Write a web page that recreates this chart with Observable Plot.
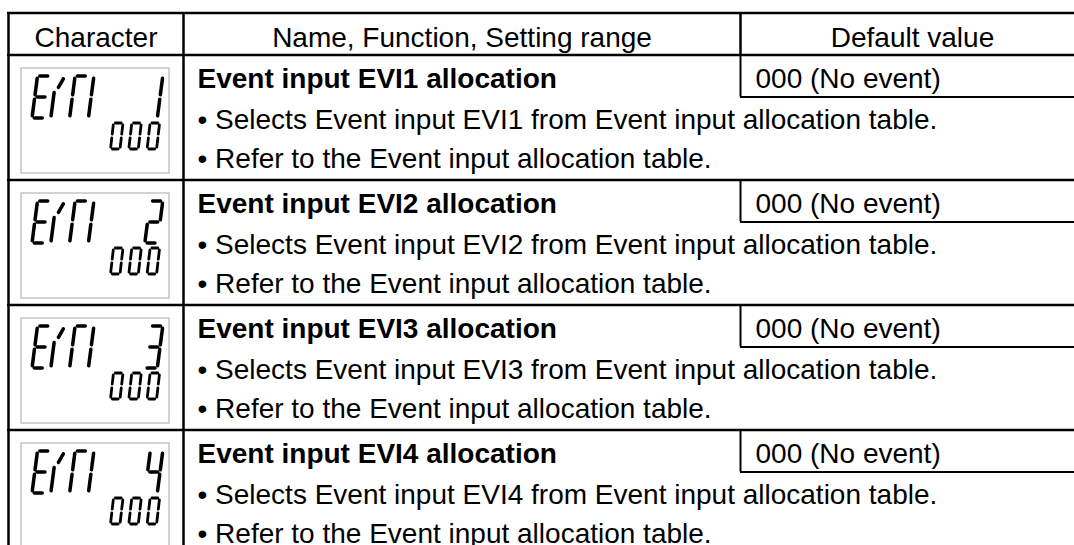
<!DOCTYPE html>
<html>
<head>
<meta charset="utf-8">
<script src="https://cdn.jsdelivr.net/npm/d3@7"></script>
<script src="https://cdn.jsdelivr.net/npm/@observablehq/plot@0.6"></script>
<style>
  html, body { margin: 0; padding: 0; background: #fff; }
  #chart svg { display: block; }
</style>
</head>
<body>
<div id="chart"></div>
<script>
// ---- Data ----
const headers = ["Character", "Name, Function, Setting range", "Default value"];
const lcdTop = ["EVΓI  1", "EVΓI  2", "EVΓI  3", "EVΓI  4"];
const lcdBottom = ["000", "000", "000", "000"];
const names = [
  "Event input EVI1 allocation",
  "Event input EVI2 allocation",
  "Event input EVI3 allocation",
  "Event input EVI4 allocation"
];
const selectLines = [
  "Selects Event input EVI1 from Event input allocation table.",
  "Selects Event input EVI2 from Event input allocation table.",
  "Selects Event input EVI3 from Event input allocation table.",
  "Selects Event input EVI4 from Event input allocation table."
];
const referLines = [
  "Refer to the Event input allocation table.",
  "Refer to the Event input allocation table.",
  "Refer to the Event input allocation table.",
  "Refer to the Event input allocation table."
];
const defaults = ["000 (No event)", "000 (No event)", "000 (No event)", "000 (No event)"];

// ---- Layout (pixel space) ----
const W = 1074, H = 545;
const tLeft = 8, tTop = 12.5, headBottom = 54.5, rowH = 125;
const col1 = 183, col2 = 740, tRight = 1074;
const FS = 28;
const font = "'Liberation Sans', Arial, Helvetica, sans-serif";

const rows = names.map((name, i) => ({
  i, name,
  sel: "• " + selectLines[i],
  ref: "• " + referLines[i],
  def: defaults[i],
  T: headBottom + rowH * i
}));

// seven-segment definitions in unit coords (u: 0..1 right, v: 0..1 up)
const SEG = {
  a: [[0, 1], [1, 1]], b: [[1, 1], [1, 0.5]], c: [[1, 0.5], [1, 0]],
  d: [[0, 0], [1, 0]], e: [[0, 0.5], [0, 0]], f: [[0, 1], [0, 0.5]],
  g: [[0, 0.5], [1, 0.5]],
  vl: [[0, 0], [0, 0.66]], vd: [[0.22, 0.68], [0.66, 0.98]]
};
const GLYPH = {
  "E": "adefg", "Γ": "aef", "I": "ef", " ": "",
  "0": "abcdef", "1": "bc", "2": "abged", "3": "abgcd", "4": "fgbc",
  "V": ["vl", "vd"]
};
function glyphSegs(str, x0, pitch, yb, h, w, slant, gap, sw) {
  const out = [];
  [...str].forEach((ch, k) => {
    const g = GLYPH[ch];
    const list = Array.isArray(g) ? g : [...(g || "")];
    list.forEach(s => {
      const [[u1, v1], [u2, v2]] = SEG[s];
      let X1 = x0 + k * pitch + u1 * w + v1 * slant, Y1 = yb - v1 * h;
      let X2 = x0 + k * pitch + u2 * w + v2 * slant, Y2 = yb - v2 * h;
      const L = Math.hypot(X2 - X1, Y2 - Y1), dx = (X2 - X1) / L, dy = (Y2 - Y1) / L;
      X1 += dx * gap; Y1 += dy * gap; X2 -= dx * gap; Y2 -= dy * gap;
      out.push({x1: X1, y1: Y1, x2: X2, y2: Y2, sw});
    });
  });
  return out;
}
const segs = rows.flatMap(r => [
  ...glyphSegs(lcdTop[r.i], 31.5, 18.8, r.T + 63, 42, 12.5, 5.5, 2.3, 3.5),
  ...glyphSegs(lcdBottom[r.i], 110, 18.3, r.T + 94, 26, 9.5, 3, 1.8, 2.8)
]);

const hLines = [tTop, headBottom, ...rows.slice(1).map(r => r.T)];

const chart = Plot.plot({
  width: W, height: H,
  margin: 0,
  x: {domain: [0, W], range: [0, W], axis: null},
  y: {domain: [0, H], range: [0, H], axis: null},
  style: {fontFamily: font, background: "#fff"},
  marks: [
    // LCD boxes
    Plot.rect(rows, {x1: 21, x2: 169, y1: d => d.T + 13.5, y2: d => d.T + 118.5,
      fill: "#fff", stroke: "#a8a8a8", strokeWidth: 1}),
    // seven segment glyphs
    Plot.link(segs, {x1: "x1", y1: "y1", x2: "x2", y2: "y2", stroke: "#000",
      strokeWidth: d => d.sw, strokeLinecap: "round"}),
    // table grid
    Plot.ruleY(hLines, {y: d => d, x1: tLeft - 1, x2: tRight, stroke: "#000", strokeWidth: 2.5}),
    Plot.ruleX([tLeft, col1], {x: d => d, y1: tTop, y2: H, stroke: "#000", strokeWidth: 2.5}),
    Plot.ruleX([col2], {x: d => d, y1: tTop, y2: headBottom, stroke: "#000", strokeWidth: 2.5}),
    // default value boxes
    Plot.ruleX(rows, {x: col2, y1: d => d.T, y2: d => d.T + 42, stroke: "#000", strokeWidth: 2}),
    Plot.ruleY(rows, {y: d => d.T + 42, x1: col2, x2: tRight, stroke: "#000", strokeWidth: 2}),
    // header
    Plot.text(headers, {x: [(tLeft + col1) / 2, (col1 + col2) / 2, col2 + 172], y: 37.5,
      text: d => d, fontSize: FS, fill: "#000", textAnchor: "middle"}),
    // names (bold)
    Plot.text(rows, {x: 197, y: d => d.T + 24.5, text: "name", fontSize: FS, fontWeight: "bold",
      fill: "#000", textAnchor: "start"}),
    Plot.text(rows, {x: 197, y: d => d.T + 65.5, text: "sel", fontSize: FS, fill: "#000", textAnchor: "start"}),
    Plot.text(rows, {x: 197, y: d => d.T + 104.5, text: "ref", fontSize: FS, fill: "#000", textAnchor: "start"}),
    Plot.text(rows, {x: 755, y: d => d.T + 24.5, text: "def", fontSize: FS, fill: "#000", textAnchor: "start"})
  ]
});
chart.setAttribute("aria-label", "EVI1–EVI4 event input allocation table");
document.getElementById("chart").appendChild(chart);
</script>
</body>
</html>
